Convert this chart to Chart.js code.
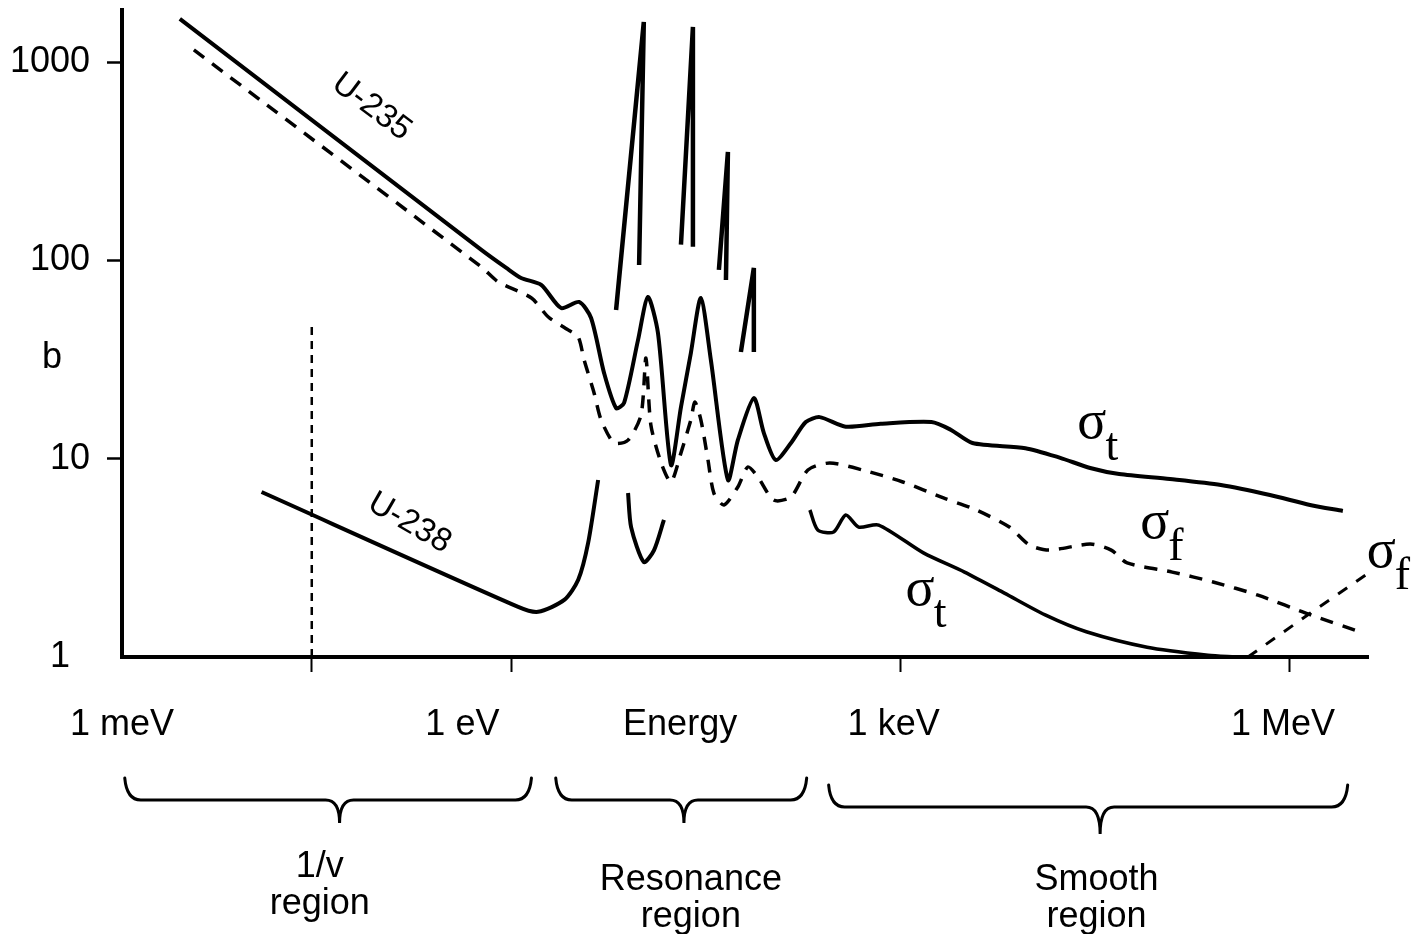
<!DOCTYPE html>
<html lang="en">
<head>
<meta charset="UTF-8">
<title>Uranium neutron cross sections</title>
<style>
  html, body { margin: 0; padding: 0; background: #fff; }
  .wrap { width: 1418px; height: 934px; }
</style>
</head>
<body>
<div class="wrap"><canvas id="xs"></canvas></div>
<script src="https://cdn.jsdelivr.net/npm/chart.js"></script>
<script>
// [energy in eV, cross section in barns]
const u235Total = [
  [0.00279, 1650], [0.588, 113], [0.915, 91.6], [1.19, 81.5], [1.70, 75.2], [2.42, 57.5],
  [3.33, 61.7], [4.12, 51.2], [5.19, 27.0], [6.42, 18.0], [7.40, 19.1], [9.48, 39.7],
  [11.3, 65.4], [13.5, 43.0], [17.0, 9.3], [20.3, 18.2], [24.2, 34.1], [28.9, 64.6],
  [34.5, 31.5], [46.7, 7.81], [55.7, 12.4], [74.0, 20.2], [88.3, 13.5], [109, 9.85],
  [143, 12.0], [186, 15.3], [238, 16.2], [378, 14.5], [702, 15.0], [1730, 15.3],
  [2430, 14.0], [3580, 12.0], [9160, 11.3], [17000, 10.1], [28900, 8.98], [48400, 8.37],
  [119000, 7.90], [294000, 7.37], [702000, 6.56], [1430000, 5.84], [2560000, 5.45]
];
const u235Fission = [
  [0.00358, 1151], [0.588, 92.6], [0.794, 77.8], [1.43, 64.6], [1.93, 51.8], [2.74, 44.6],
  [3.28, 41.1], [3.64, 31.5], [4.35, 21.4], [4.92, 15.7], [6.20, 12.0], [7.94, 12.4],
  [10.0, 16.6], [10.9, 32.2], [11.9, 14.8], [14.3, 9.51], [17.0, 7.63], [20.3, 10.7],
  [24.2, 15.7], [26.0, 19.3], [28.9, 15.7], [32.8, 9.85], [36.4, 6.71], [43.5, 5.84],
  [55.7, 7.20], [66.5, 9.08], [79.4, 8.09], [105, 6.19], [143, 6.41], [193, 8.77],
  [284, 9.51], [510, 8.77], [1040, 7.63], [2140, 6.34], [3840, 5.51], [6890, 4.52],
  [9820, 3.67], [14000, 3.46], [28900, 3.71], [42000, 3.46], [55700, 2.98], [124000, 2.68],
  [256000, 2.39], [568000, 2.05], [1450000, 1.63], [3710000, 1.32]
];
// U-238 total is drawn in three pieces
const u238TotalLow = [
  [0.0119, 6.79], [1.13, 1.79], [1.61, 1.69], [2.56, 1.94], [3.28, 2.45], [3.91, 3.76], [4.67, 7.81]
];
const u238TotalMid = [[7.94, 6.71], [8.38, 4.52], [10.5, 3.01], [12.6, 3.46], [15.0, 4.91]];
const u238TotalHigh = [
  [200, 5.51], [230, 4.37], [305, 4.27], [378, 5.20], [475, 4.52], [678, 4.63], [1500, 3.35],
  [3110, 2.68], [6310, 2.10], [13000, 1.63], [27000, 1.34], [79400, 1.12], [234000, 1.02], [378000, 1.0]
];
const u238Fission = [[475000, 1.0], [1450000, 1.67], [3840000, 2.59]];
// resonance peaks that shoot above the smoothed curve
const peaks = [
  [[6.42, 56.2], [10.5, 1593], [9.66, 94.8]],
  [[20.3, 120], [25.1, 1503], [25.1, 117]],
  [[39.8, 89.5], [46.7, 352], [45.1, 79.6]],
  [[58.8, 34.5], [74.0, 91.6], [74.0, 34.5]]
];
const thermal = [[0.029, 1], [0.029, 47]];

const yTicks = [1, 10, 100, 1000];
const xTicks = [0.029, 1, 1e3, 1e6];
const xLabels = ['1 meV', '1 eV', 'Energy', '1 keV', '1 MeV'];
const xLabelAt = [1e-3, 0.42, 20, 884, 8.84e5];

const regionNames = [['1/v', 'region'], ['Resonance', 'region'], ['Smooth', 'region']];
const regionFrom = [1.05e-3, 2.2, 279];
const regionTo = [1.43, 189, 2.79e6];
const regionMid = [0.0475, 21.4, 34500];
const regionTextAt = [0.0334, 24.2, 32300];

// sigma labels: [energy, barns, subscript]
const sigmaLabels = [[23000, 12.7, 't'], [70200, 3.98, 'f'], [1093, 1.83, 't'], [3.91e6, 2.84, 'f']];

const SANS = '"Liberation Sans", Arial, sans-serif';
const SERIF = '"Liberation Serif", "Times New Roman", serif';

const pts = arr => arr.map(p => ({ x: p[0], y: p[1] }));
const line = (arr, width, dash, tension) => ({
  data: pts(arr),
  showLine: true,
  borderColor: '#000',
  borderWidth: width,
  borderDash: dash || [],
  pointRadius: 0,
  tension: tension === undefined ? 0.25 : tension,
  fill: false
});

const datasets = [
  line(thermal, 2.5, [8, 6], 0),
  line(u235Total, 4),
  line(u235Fission, 3.5, [13, 10]),
  line(u238TotalLow, 4),
  line(u238TotalMid, 4),
  line(u238TotalHigh, 3.5),
  line(u238Fission, 3, [11, 11], 0)
];
peaks.forEach(pk => datasets.push(line(pk, 4.5, [], 0)));

const decorations = {
  id: 'decorations',
  afterDraw(chart) {
    const { ctx, chartArea } = chart;
    const x = chart.scales.x, y = chart.scales.y;
    const bottom = chartArea.bottom;
    ctx.save();
    ctx.fillStyle = '#000';
    ctx.strokeStyle = '#000';

    // energy labels under the axis
    ctx.font = '36px ' + SANS;
    ctx.textAlign = 'center';
    ctx.textBaseline = 'alphabetic';
    xLabels.forEach((t, i) => ctx.fillText(t, x.getPixelForValue(xLabelAt[i]), bottom + 78));

    // unit label
    ctx.fillText('b', chartArea.left - 70, y.getPixelForValue(28.7));

    // braces and region names
    ctx.lineWidth = 3;
    ctx.lineCap = 'round';
    regionNames.forEach((names, i) => {
      const x0 = x.getPixelForValue(regionFrom[i]);
      const x1 = x.getPixelForValue(regionTo[i]);
      const xc = x.getPixelForValue(regionMid[i]);
      const top = bottom + (i === 2 ? 128 : 121);
      const mid = top + 22;
      const tip = mid + (i === 2 ? 27 : 23);
      ctx.beginPath();
      ctx.moveTo(x0, top);
      ctx.quadraticCurveTo(x0 + 2, mid, x0 + 16, mid);
      ctx.lineTo(xc - 14, mid);
      ctx.quadraticCurveTo(xc, mid, xc, tip);
      ctx.quadraticCurveTo(xc, mid, xc + 14, mid);
      ctx.lineTo(x1 - 16, mid);
      ctx.quadraticCurveTo(x1 - 2, mid, x1, top);
      ctx.stroke();

      const tx = x.getPixelForValue(regionTextAt[i]);
      const base = bottom + (i === 0 ? 220 : 233);
      ctx.fillText(names[0], tx, base);
      ctx.fillText(names[1], tx, base + 37);
    });

    // isotope names along the curves
    const slanted = (text, e, s, deg) => {
      ctx.save();
      ctx.translate(x.getPixelForValue(e), y.getPixelForValue(s));
      ctx.rotate(deg * Math.PI / 180);
      ctx.font = '33px ' + SANS;
      ctx.textAlign = 'center';
      ctx.textBaseline = 'middle';
      ctx.fillText(text, 0, 0);
      ctx.restore();
    };
    slanted('U-235', 0.0838, 594, 37);
    slanted('U-238', 0.164, 4.74, 30);

    // sigma_t / sigma_f
    ctx.textAlign = 'left';
    sigmaLabels.forEach(([e, s, sub]) => {
      const px = x.getPixelForValue(e), py = y.getPixelForValue(s);
      ctx.font = '54px ' + SERIF;
      ctx.fillText('σ', px, py);
      const w = ctx.measureText('σ').width;
      ctx.font = '46px ' + SERIF;
      ctx.fillText(sub, px + w - 1, py + 22);
    });
    ctx.restore();
  }
};

new Chart(document.getElementById('xs'), {
  type: 'scatter',
  data: { datasets },
  options: {
    responsive: true,
    maintainAspectRatio: false,
    animation: false,
    layout: { padding: { top: 10, right: 50, left: 0, bottom: 0 } },
    plugins: { legend: { display: false }, tooltip: { enabled: false } },
    scales: {
      x: {
        type: 'logarithmic',
        min: 1e-3,
        max: 4e6,
        afterBuildTicks: s => { s.ticks = xTicks.map(v => ({ value: v })); },
        afterFit: s => { s.height = 277; s.paddingLeft = 0; s.paddingRight = 0; },
        ticks: { display: false },
        grid: { drawOnChartArea: false, drawTicks: true, tickLength: 15, tickWidth: 2, color: '#000' },
        border: { display: true, width: 4, color: '#000' }
      },
      y: {
        type: 'logarithmic',
        min: 1,
        max: 1830,
        afterBuildTicks: s => { s.ticks = yTicks.map(v => ({ value: v })); },
        afterFit: s => { s.width = 122; s.paddingTop = 0; s.paddingBottom = 0; },
        ticks: {
          color: '#000',
          padding: 17,
          font: { size: 36, family: SANS },
          callback: v => v === 1 ? '1  ' : String(v)
        },
        grid: {
          drawOnChartArea: false,
          tickLength: 15,
          tickWidth: 2.5,
          tickColor: c => (c.tick && c.tick.value === 1) ? 'rgba(0,0,0,0)' : '#000'
        },
        border: { display: true, width: 4, color: '#000' }
      }
    }
  },
  plugins: [decorations]
});
</script>
</body>
</html>
